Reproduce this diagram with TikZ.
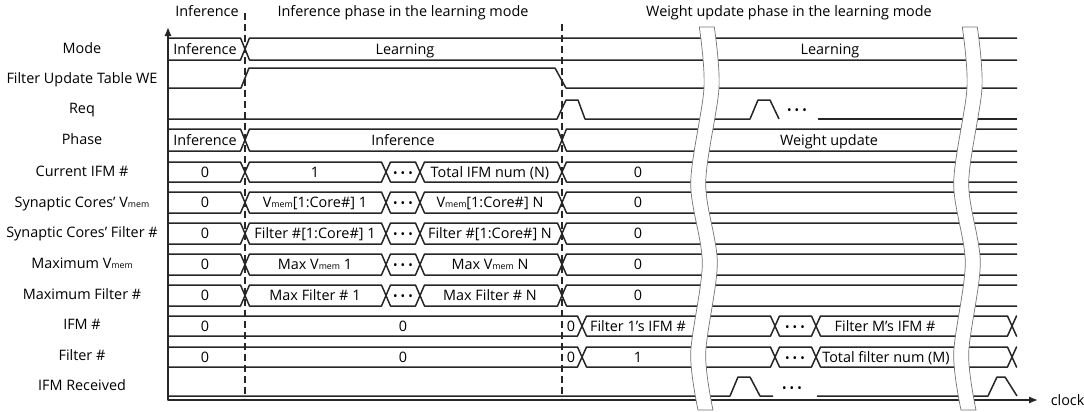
\documentclass[tikz,border=0pt]{standalone}
\usepackage{fontspec}
\setmainfont{Open Sans}
\usetikzlibrary{arrows.meta}
\newcommand{\tikzUnit}{0.5pt}
\newcommand{\xAxisStart}{168}
\newcommand{\xAxisEnd}{1038}
\newcommand{\lineEnd}{1017}
\newcommand{\hw}{4.5}
\newcommand{\vmem}{V{\fontsize{4.4}{5}\selectfont mem}}
\newcommand{\sigDots}{{\fontsize{6}{6}\selectfont\textbullet\hspace{1.5pt}\textbullet\hspace{1.5pt}\textbullet}}
\newcommand{\busSeg}[4]{\draw[sig] (#1,{(#3+#4)/2}) -- ({#1+\hw},#3) -- ({#2-\hw},#3) -- (#2,{(#3+#4)/2}) -- ({#2-\hw},#4) -- ({#1+\hw},#4) -- cycle;}
\newcommand{\busStart}[3]{\draw[sig] (\xAxisStart,#2) -- ({#1-\hw},#2) -- (#1,{(#2+#3)/2}) -- ({#1-\hw},#3) -- (\xAxisStart,#3);}
\newcommand{\busRest}[3]{\draw[sig] (\lineEnd,#2) -- ({#1+\hw},#2) -- (#1,{(#2+#3)/2}) -- ({#1+\hw},#3) -- (\lineEnd,#3);}
\newcommand{\waveBand}[1]{\draw[band] plot[smooth] coordinates {({#1+2.3},27) ({#1+7},88) ({#1-6.3},183) ({#1+5.3},263) ({#1-6.3},353) ({#1+1},410)} -- plot[smooth] coordinates {({#1+16},410) ({#1+8.7},353) ({#1+20.3},263) ({#1+8.7},183) ({#1+22},88) ({#1+17.3},27)} -- cycle;}

\begin{document}
\begin{tikzpicture}[x=\tikzUnit, y=-\tikzUnit, font=\fontsize{7.2}{8.5}\selectfont,
  sig/.style={line width=0.75pt, draw=black!85, line join=round},
  band/.style={draw=black!55, line width=0.35pt, fill=white},
  phaseDiv/.style={line width=0.75pt, draw=black!85, dash pattern=on 3.5pt off 2pt},
  every node/.style={inner sep=0pt, text height=5.6pt, text depth=0.5pt}]
\useasboundingbox (0,0) rectangle (1084,412);
\node (hdInf) at (207,11) {Inference};
\node (hdLearnInf) at (403,11) {Inference phase in the learning mode};
\node (hdLearnWu) at (789,11) {Weight update phase in the learning mode};
\node (lblMode) at (82,48) {Mode};
\node (lblWE) at (82,78) {Filter Update Table WE};
\node (lblReq) at (82,108) {Req};
\node (lblPhase) at (82,139) {Phase};
\node (lblCurIFM) at (82,171) {Current IFM \#};
\node (lblSynV) at (82,202) {Synaptic Cores' \vmem};
\node (lblSynF) at (82,232) {Synaptic Cores' Filter \#};
\node (lblMaxV) at (82,263) {Maximum \vmem};
\node (lblMaxF) at (82,294) {Maximum Filter \#};
\node (lblIFM) at (82,324) {IFM \#};
\node (lblFilter) at (82,355) {Filter \#};
\node (lblRecv) at (82,385) {IFM Received};
\draw[phaseDiv] (245,13) -- (245,398);
\draw[phaseDiv] (562,24) -- (562,398);
\busStart{245}{38}{60}
\busRest{245}{38}{60}
\node (modeInf) at (205,49) {Inference};
\node (modeLearnA) at (405,49) {Learning};
\node (modeLearnB) at (830,49) {Learning};
\draw[sig] (\xAxisStart,88) -- (241,88) -- (249,68) -- (555,68) -- (566,88) -- (\lineEnd,88);
\draw[sig] (\xAxisStart,119) -- (557,119) -- (566,100) -- (578,100) -- (585,119) -- (750,119) -- (758,100) -- (770,100) -- (779,119);
\draw[sig] (818,119) -- (\lineEnd,119);
\node (reqDots) at (797,109) {\sigDots};
\busStart{245}{129}{151}
\busSeg{245}{562}{129}{151}
\busRest{562}{129}{151}
\node (phaseInfA) at (205,140) {Inference};
\node (phaseInfB) at (403,140) {Inference};
\node (phaseWu) at (829,140) {Weight update};
\busStart{245}{162}{182}
\busSeg{245}{386}{162}{182}
\busSeg{386}{420}{162}{182}
\busSeg{420}{562}{162}{182}
\busRest{562}{162}{182}
\node (curA) at (205,172) {0};
\node (curB) at (315,172) {1};
\node (curDots) at (403,172) {\sigDots};
\node (curC) at (490,172) {Total IFM num (N)};
\node (curD) at (638,172) {0};
\busStart{245}{192}{213}
\busSeg{245}{386}{192}{213}
\busSeg{386}{420}{192}{213}
\busSeg{420}{562}{192}{213}
\busRest{562}{192}{213}
\node (synVA) at (205,202.5) {0};
\node (synVB) at (315,202.5) {\vmem[1:Core\#] 1};
\node (synVDots) at (403,202.5) {\sigDots};
\node (synVC) at (490,202.5) {\vmem[1:Core\#] N};
\node (synVD) at (638,202.5) {0};
\busStart{245}{223}{244}
\busSeg{245}{386}{223}{244}
\busSeg{386}{420}{223}{244}
\busSeg{420}{562}{223}{244}
\busRest{562}{223}{244}
\node (synFA) at (205,233.5) {0};
\node (synFB) at (315,233.5) {Filter \#[1:Core\#] 1};
\node (synFDots) at (403,233.5) {\sigDots};
\node (synFC) at (490,233.5) {Filter \#[1:Core\#] N};
\node (synFD) at (638,233.5) {0};
\busStart{245}{254}{275}
\busSeg{245}{386}{254}{275}
\busSeg{386}{420}{254}{275}
\busSeg{420}{562}{254}{275}
\busRest{562}{254}{275}
\node (maxVA) at (205,264.5) {0};
\node (maxVB) at (315,264.5) {Max \vmem{} 1};
\node (maxVDots) at (403,264.5) {\sigDots};
\node (maxVC) at (490,264.5) {Max \vmem{} N};
\node (maxVD) at (638,264.5) {0};
\busStart{245}{285}{306}
\busSeg{245}{386}{285}{306}
\busSeg{386}{420}{285}{306}
\busSeg{420}{562}{285}{306}
\busRest{562}{285}{306}
\node (maxFA) at (205,295.5) {0};
\node (maxFB) at (315,295.5) {Max Filter \# 1};
\node (maxFDots) at (403,295.5) {\sigDots};
\node (maxFC) at (490,295.5) {Max Filter \# N};
\node (maxFD) at (638,295.5) {0};
\busStart{582}{316}{336}
\busSeg{582}{775}{316}{336}
\busSeg{775}{816}{316}{336}
\busSeg{816}{1012}{316}{336}
\busRest{1012}{316}{336}
\node (ifmA) at (205,326) {0};
\node (ifmB) at (403,326) {0};
\node (ifmC) at (571,326) {0};
\node (ifmD) at (638,326) {Filter 1's IFM \#};
\node (ifmDots) at (795,326) {\sigDots};
\node (ifmE) at (885,326) {Filter M's IFM \#};
\busStart{582}{347}{367}
\busSeg{582}{775}{347}{367}
\busSeg{775}{816}{347}{367}
\busSeg{816}{1012}{347}{367}
\busRest{1012}{347}{367}
\node (filA) at (205,357) {0};
\node (filB) at (403,357) {0};
\node (filC) at (571,357) {0};
\node (filD) at (638,357) {1};
\node (filDots) at (795,357) {\sigDots};
\node (filE) at (886,357) {Total filter num (M)};
\draw[sig] (\xAxisStart,396) -- (730,396) -- (738,377) -- (750,377) -- (760,396) -- (773,396);
\draw[sig] (817,396) -- (988,396) -- (997,377) -- (1005,377) -- (1017,396);
\node (recvDots) at (792,387) {\sigDots};
\draw[sig, <->, >={Latex[length=4.5pt,width=3.6pt]}] (\xAxisStart,27) coordinate (yaxis) |- (\xAxisEnd,400) node (xaxis) [right=6pt] {clock};
\waveBand{697}
\waveBand{960}
\end{tikzpicture}
\end{document}
